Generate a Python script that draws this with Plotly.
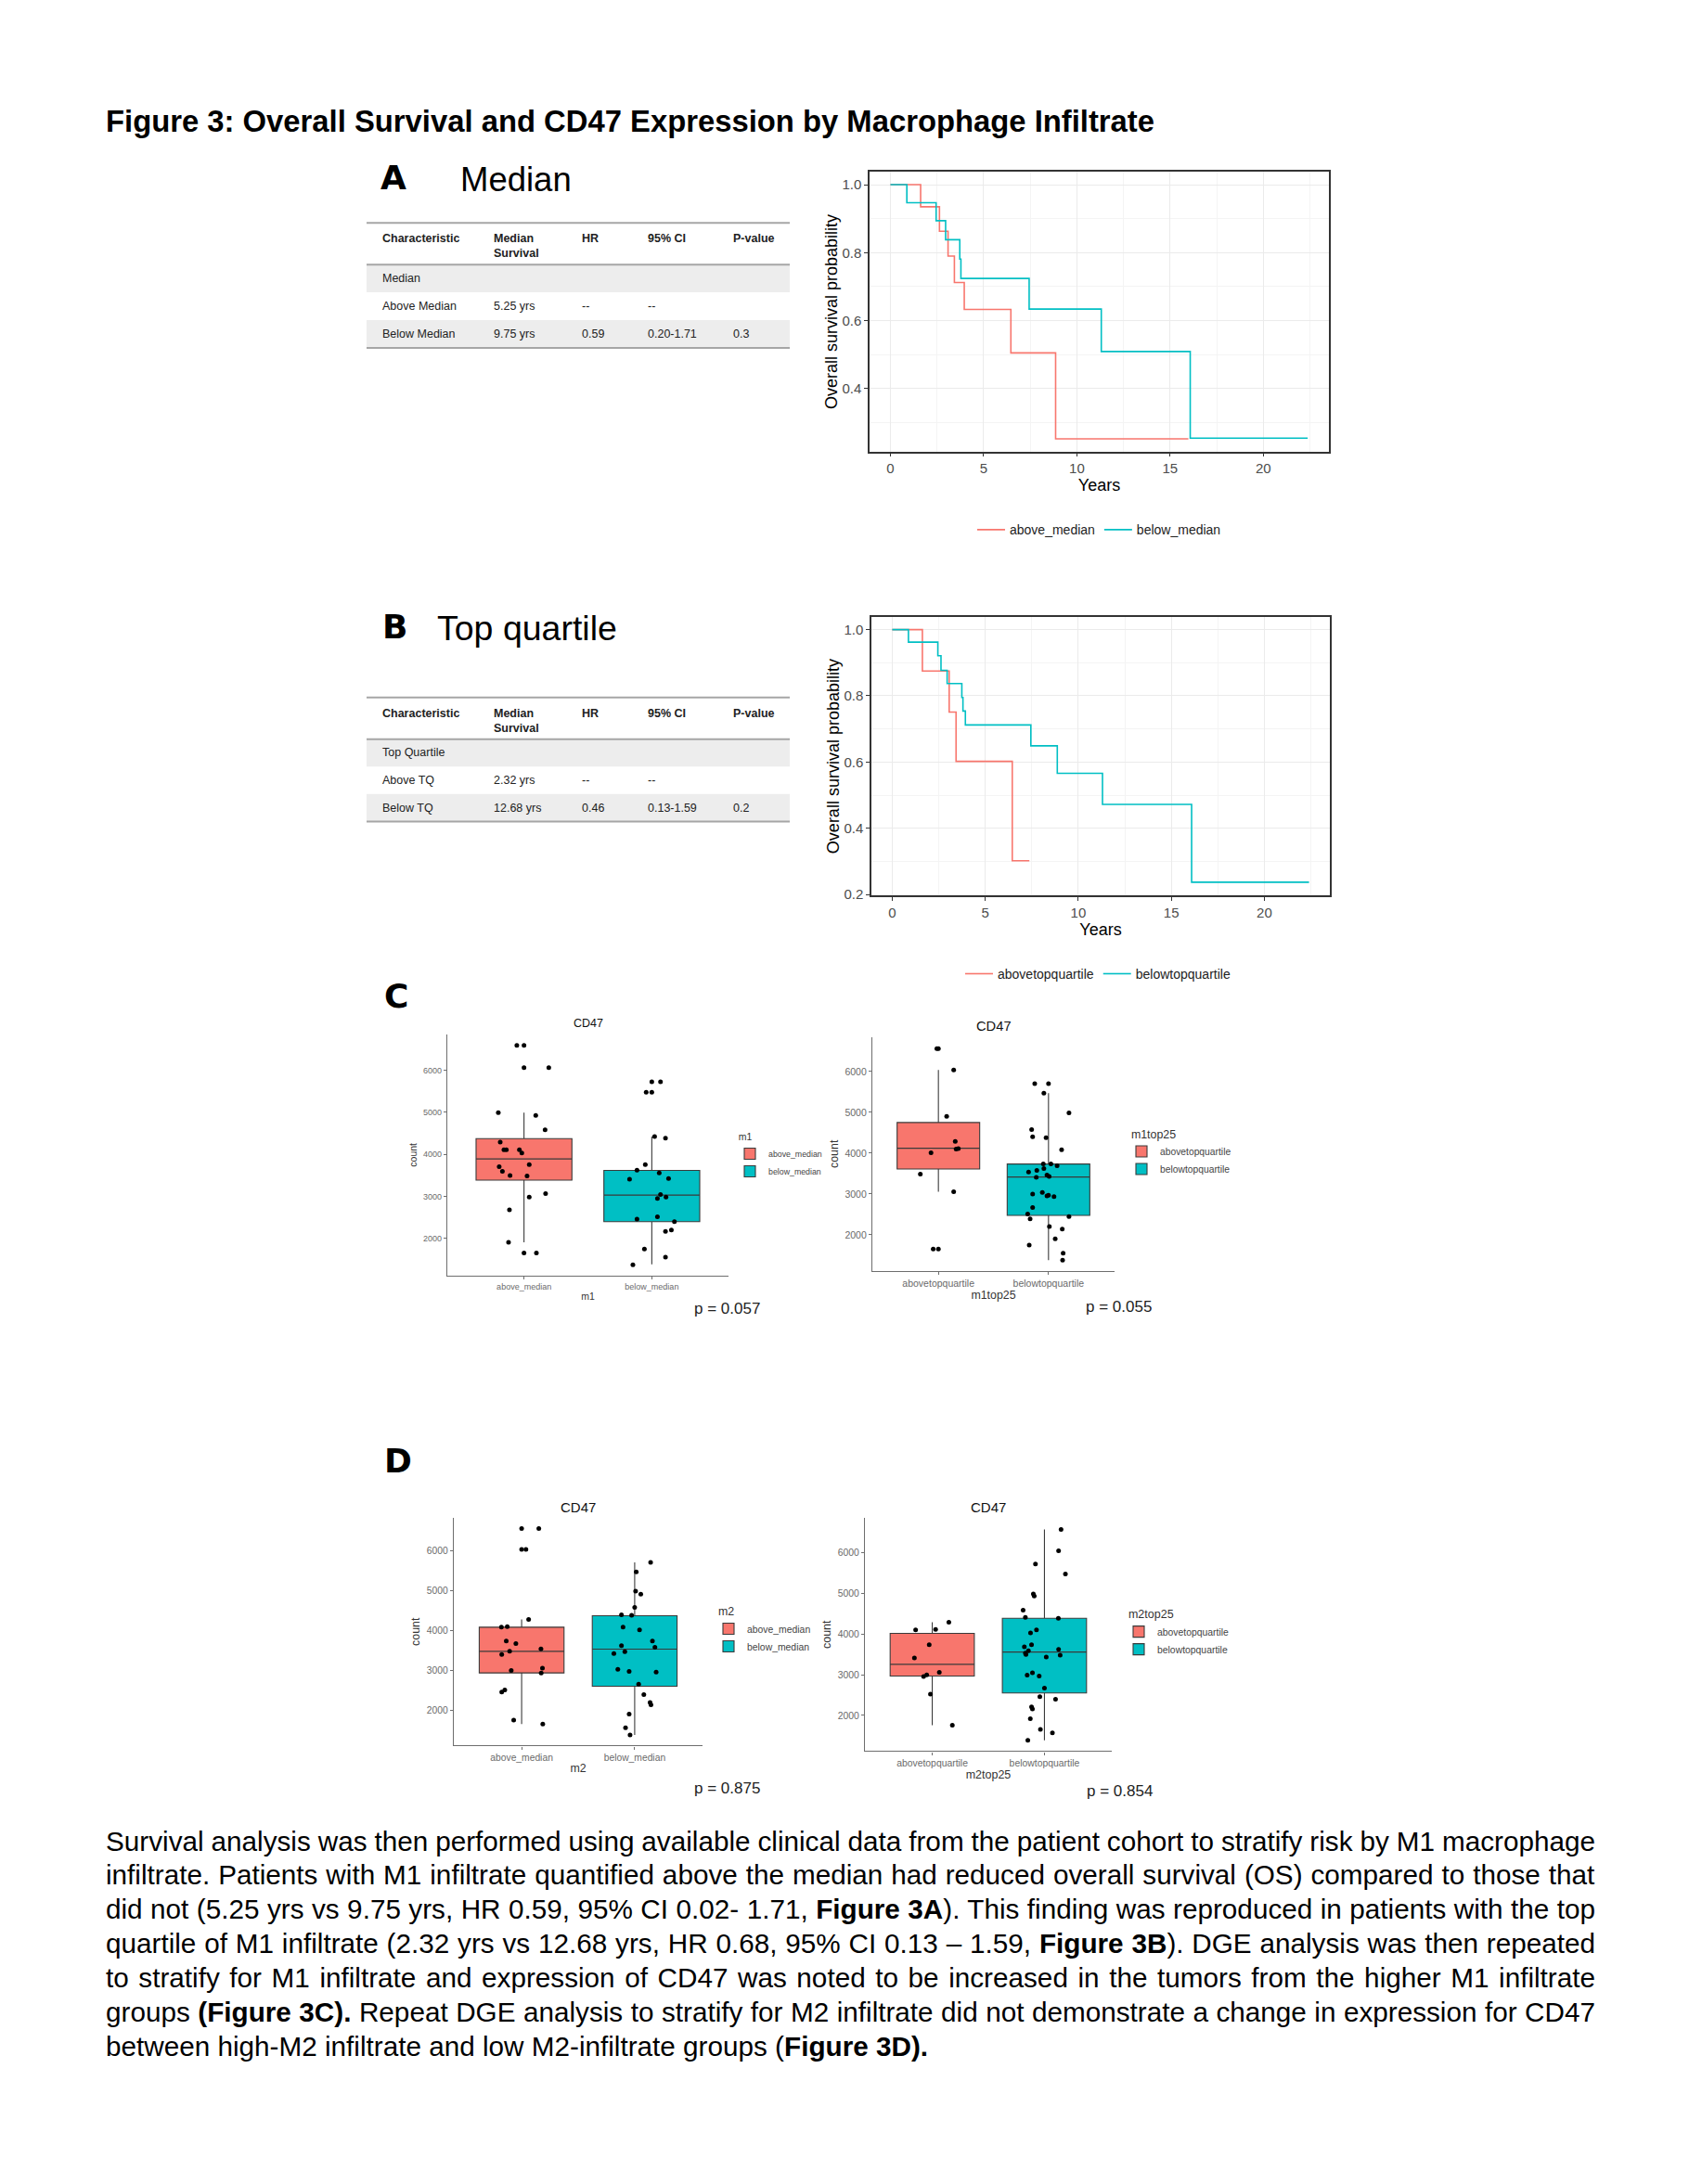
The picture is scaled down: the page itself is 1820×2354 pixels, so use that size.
import json
import plotly.graph_objects as go

W, H = 1820, 2354
FONT = "Liberation Sans, Arial, sans-serif"
HEAVY = "DejaVu Sans, Liberation Sans, sans-serif"
RED = "#F8766D"
CYAN = "#00BFC4"

# ---------------- data ----------------
fig_title = "Figure 3: Overall Survival and CD47 Expression by Macrophage Infiltrate"
panel_letters = ["A", "B", "C", "D"]
panel_headings = ["Median", "Top quartile"]

table_header = ["Characteristic", "Median<br>Survival", "HR", "95% CI", "P-value"]
tableA_rows = [["Median", "", "", "", ""],
               ["Above Median", "5.25 yrs", "--", "--", ""],
               ["Below Median", "9.75 yrs", "0.59", "0.20-1.71", "0.3"]]
tableB_rows = [["Top Quartile", "", "", "", ""],
               ["Above TQ", "2.32 yrs", "--", "--", ""],
               ["Below TQ", "12.68 yrs", "0.46", "0.13-1.59", "0.2"]]

# Kaplan-Meier step curves (time in years, survival probability)
kmA_names = ["above_median", "below_median"]
kmA_above_t = [0, 1.62, 2.63, 3.09, 3.43, 3.96, 6.46, 8.86, 15.98]
kmA_above_s = [1.0, 0.935, 0.863, 0.790, 0.712, 0.633, 0.505, 0.252, 0.252]
kmA_below_t = [0, 0.88, 2.45, 2.96, 3.72, 3.78, 7.44, 11.31, 16.08, 22.38]
kmA_below_s = [1.0, 0.947, 0.894, 0.838, 0.781, 0.724, 0.634, 0.509, 0.254, 0.254]

kmB_names = ["abovetopquartile", "belowtopquartile"]
kmB_above_t = [0, 1.62, 3.06, 3.43, 6.45, 7.37]
kmB_above_s = [1.0, 0.875, 0.751, 0.602, 0.302, 0.302]
kmB_below_t = [0, 0.87, 2.45, 2.62, 2.95, 3.74, 3.80, 3.93, 7.45, 8.87, 11.30, 16.09, 22.40]
kmB_below_s = [1.0, 0.962, 0.921, 0.877, 0.837, 0.795, 0.754, 0.712, 0.649, 0.566, 0.472, 0.237, 0.237]

# Box plots: CD47 count by group
# C left: m1 (median split)
c1_groups = ["above_median", "below_median"]
c1_q1 = [3385, 2396]
c1_med = [3890, 3028]
c1_q3 = [4374, 3615]
c1_lo = [1905, 1380]
c1_hi = [4994, 4422]
c1_a_vals = [6594, 6066, 4994, 4928, 4583, 4290, 4106, 4106, 4106, 4033, 3703, 3754, 3593, 3497, 3483, 2983, 3064, 2675, 1905, 1648]
c1_a_jit = [-0.056, 0.194, -0.201, 0.092, 0.165, -0.186, -0.157, -0.138, -0.036, -0.017, -0.194, 0.041, -0.169, -0.109, 0.024, 0.041, 0.169, -0.114, -0.121, 0.097]
c1_b_vals = [5728, 5479, 4422, 4385, 3754, 3622, 3409, 3556, 3424, 3042, 2947, 2983, 2455, 2514, 2396, 2198, 2161, 1743, 1552, 1369]
c1_b_jit = [0.068, -0.044, 0.022, 0.107, -0.051, -0.116, -0.174, 0.058, 0.131, 0.068, 0.044, 0.111, -0.116, 0.044, 0.177, 0.153, 0.107, -0.058, 0.107, -0.148]
c1_a_out = [6594, 6066, 1648]
c1_b_out = [5728, 5479]

# C right: m1top25
c2_groups = ["abovetopquartile", "belowtopquartile"]
c2_q1 = [3614, 2477]
c2_med = [4121, 3417]
c2_q3 = [4750, 3735]
c2_lo = [3053, 1379]
c2_hi = [6038, 5470]
c2_a_vals = [6561, 6038, 4902, 4288, 4098, 4114, 4008, 3485, 3053, 1652]
c2_a_jit = [-0.014, 0.139, 0.075, 0.153, 0.161, 0.181, -0.067, -0.164, 0.139, -0.047]
c2_b_vals = [5705, 5470, 4985, 4576, 4402, 4379, 4083, 3735, 3735, 3689, 3538, 3576, 3621, 3462, 3432, 3409,
             3000, 3038, 2955, 2970, 2939, 2667, 2508, 2394, 2447, 2205, 2144, 1902, 1750, 1553, 1379]
c2_b_jit = [-0.125, -0.042, 0.186, -0.153, -0.144, -0.022, 0.119, -0.047, 0.022, 0.078, -0.181, -0.106, -0.042, -0.014, 0.006, -0.111,
            -0.144, -0.056, -0.014, 0.0, 0.050, -0.144, -0.189, -0.167, 0.186, 0.008, 0.125, 0.061, -0.175, 0.133, 0.128]
c2_a_out = [6561, 1652]
c2_b_out = [5705]

# D left: m2 (median split)
d1_groups = ["above_median", "below_median"]
d1_q1 = [2932, 2598]
d1_med = [3476, 3530]
d1_q3 = [4082, 4369]
d1_lo = [1643, 1371]
d1_hi = [4276, 5713]
d1_a_vals = [6567, 6039, 4276, 4082, 4097, 3732, 3670, 3476, 3398, 3538, 2994, 3049, 2932, 2505, 2450, 1744, 1643]
d1_a_jit = [0.152, 0.038, 0.062, -0.179, -0.127, -0.136, -0.051, -0.106, -0.176, 0.171, -0.092, 0.184, 0.173, -0.149, -0.176, -0.070, 0.187]
d1_b_vals = [5713, 5472, 4990, 4913, 4579, 4392, 4384, 4082, 4012, 3732, 3577, 3616, 3468, 3421, 3025, 2971, 2955, 2652,
             2388, 2186, 2132, 1899, 1550, 1371]
d1_b_jit = [0.141, 0.014, 0.008, 0.054, 0.0, -0.117, -0.027, -0.103, 0.043, 0.157, 0.179, -0.117, -0.087, -0.184, -0.149, -0.049, 0.190, 0.035,
            0.081, 0.136, 0.144, -0.049, -0.081, -0.041]
d1_a_out = [6567, 6039]
d1_b_out = []

# D right: m2top25
d2_groups = ["abovetopquartile", "belowtopquartile"]
d2_q1 = [2966, 2551]
d2_med = [3253, 3555]
d2_q3 = [4015, 4385]
d2_lo = [1758, 1389]
d2_hi = [4287, 6566]
d2_a_vals = [4287, 4098, 4113, 3736, 3411, 2958, 2996, 3057, 2521, 1758]
d2_a_jit = [0.148, -0.148, 0.030, -0.027, -0.159, -0.077, -0.049, 0.063, -0.016, 0.179]
d2_b_vals = [6566, 6038, 5713, 5472, 4981, 4928, 4581, 4408, 4385, 4098, 4023, 3683, 3736, 3585, 3532, 3494, 3623, 3479, 3434,
             2989, 3049, 2966, 2672, 2460, 2400, 2211, 2158, 1917, 1660, 1570, 1389]
d2_b_jit = [0.148, 0.126, -0.080, 0.187, -0.099, -0.091, -0.190, -0.170, 0.124, -0.071, -0.124, -0.179, -0.115, -0.143, -0.170, -0.165, 0.126, 0.140, 0.016,
            -0.154, -0.107, -0.047, 0.0, -0.041, 0.099, -0.115, -0.107, -0.126, -0.036, 0.071, -0.148]
d2_a_out = []
d2_b_out = []

p_values = ["p = 0.057", "p = 0.055", "p = 0.875", "p = 0.854"]

paragraph_lines = [
    "Survival analysis was then performed using available clinical data from the patient cohort to stratify risk by M1 macrophage",
    "infiltrate. Patients with M1 infiltrate quantified above the median had reduced overall survival (OS) compared to those that",
    "did not (5.25 yrs vs 9.75 yrs, HR 0.59, 95% CI 0.02- 1.71, <b>Figure 3A</b>). This finding was reproduced in patients with the top",
    "quartile of M1 infiltrate (2.32 yrs vs 12.68 yrs, HR 0.68, 95% CI 0.13 \u2013 1.59, <b>Figure 3B</b>). DGE analysis was then repeated",
    "to stratify for M1 infiltrate and expression of CD47 was noted to be increased in the tumors from the higher M1 infiltrate",
    "groups <b>(Figure 3C).</b> Repeat DGE analysis to stratify for M2 infiltrate did not demonstrate a change in expression for CD47",
    "between high-M2 infiltrate and low M2-infiltrate groups (<b>Figure 3D).</b>",
]


# ---------------- helpers ----------------
def fx(px):
    return px / W


def fy(py):
    return 1 - py / H


fig = go.Figure()
annotations = []
shapes = []


def text(x, y, s, size, bold=False, color="black", xanchor="left", yanchor="middle", angle=0, family=FONT):
    annotations.append(dict(
        x=fx(x), y=fy(y), xref="paper", yref="paper", text=("<b>%s</b>" % s) if bold else s,
        showarrow=False, xanchor=xanchor, yanchor=yanchor, align="left" if xanchor == "left" else "center",
        textangle=angle, font=dict(family=family, size=size, color=color)))


# title
text(104, 123, fig_title, 32.8, bold=True)

# ---------------- tables ----------------
col_x = [402, 522, 617, 688, 780]


def draw_table(top, head_bot, row_h, rows):
    x0, x1 = 387, 843
    for i, r in enumerate(rows):
        y0 = head_bot + i * row_h
        if i != 1:
            shapes.append(dict(type="rect", xref="paper", yref="paper", x0=fx(x0), x1=fx(x1),
                               y0=fy(y0 + row_h), y1=fy(y0), fillcolor="#EDEDED", line=dict(width=0), layer="below"))
        for j, cell in enumerate(r):
            if cell:
                text(col_x[j], y0 + row_h / 2, cell, 12.5, color="#222222")
    for yy in (top, head_bot, head_bot + 3 * row_h):
        shapes.append(dict(type="line", xref="paper", yref="paper", x0=fx(x0), x1=fx(x1), y0=fy(yy), y1=fy(yy),
                           line=dict(color="#A6A6A6", width=2)))
    for j, hname in enumerate(table_header):
        text(col_x[j], top + 8, hname, 12.5, bold=True, color="#222222", yanchor="top")


draw_table(233, 278, 30, tableA_rows)
draw_table(746, 791, 29.7, tableB_rows)

# panel letters and headings
text(400, 184, panel_letters[0], 36, bold=True, family=HEAVY)
text(402, 669, panel_letters[1], 36, bold=True, family=HEAVY)
text(404, 1069, panel_letters[2], 36, bold=True, family=HEAVY)
text(404, 1571, panel_letters[3], 36, bold=True, family=HEAVY)
text(486, 186, panel_headings[0], 36.5)
text(461, 671, panel_headings[1], 37.5)

# ---------------- KM plots ----------------
km_axes_common = dict(showline=True, linecolor="#333333", linewidth=1.5, mirror=True,
                      ticks="outside", ticklen=4, tickcolor="#333333", tickwidth=1,
                      tickfont=dict(family=FONT, size=15, color="#4D4D4D"),
                      showgrid=True, gridcolor="#EBEBEB", gridwidth=1.2, zeroline=False)


def km_panel(n, dom_x, dom_y, yrange, ydtick0, curves, legname, legx, legy):
    xa = "xaxis" if n == 1 else "xaxis%d" % n
    ya = "yaxis" if n == 1 else "yaxis%d" % n
    xr = "x" if n == 1 else "x%d" % n
    yr = "y" if n == 1 else "y%d" % n
    fig.layout[xa] = dict(domain=[fx(dom_x[0]), fx(dom_x[1])], anchor=yr, range=[-1.12, 23.52],
                          tickvals=[0, 5, 10, 15, 20],
                          minor=dict(dtick=2.5, tick0=0, showgrid=True, gridcolor="#F4F4F4", gridwidth=0.8, ticks=""),
                          title=dict(text="Years", font=dict(family=FONT, size=18, color="black"), standoff=4),
                          **km_axes_common)
    fig.layout[ya] = dict(domain=[fy(dom_y[1]), fy(dom_y[0])], anchor=xr, range=yrange,
                          tickmode="linear", tick0=ydtick0, dtick=0.2, tickformat=".1f",
                          minor=dict(dtick=0.1, tick0=0, showgrid=True, gridcolor="#F4F4F4", gridwidth=0.8, ticks=""),
                          title=dict(text="Overall survival probability", font=dict(family=FONT, size=18, color="black"), standoff=0),
                          **km_axes_common)
    for (t, s, name, col) in curves:
        fig.add_trace(go.Scatter(x=t, y=s, mode="lines", line=dict(color=col, width=1.6, shape="hv"),
                                 name=name, xaxis=xr, yaxis=yr, legend=legname))
    fig.layout[legname] = dict(orientation="h", x=fx(legx), xanchor="left", y=fy(legy), yanchor="middle",
                               font=dict(family=FONT, size=14, color="#222222"), bgcolor="rgba(0,0,0,0)",
                               itemwidth=30, tracegroupgap=0)


km_panel(1, (929, 1424), (178, 480), [0.215, 1.037], 0.4,
         [(kmA_above_t, kmA_above_s, kmA_names[0], RED), (kmA_below_t, kmA_below_s, kmA_names[1], CYAN)],
         "legend", 1040, 565)
km_panel(2, (931, 1425), (659, 960), [0.197, 1.038], 0.2,
         [(kmB_above_t, kmB_above_s, kmB_names[0], RED), (kmB_below_t, kmB_below_s, kmB_names[1], CYAN)],
         "legend2", 1027, 1045)


# ---------------- box plots ----------------
def box_panel(n, dom_x, dom_y, yrange, groups, q1, med, q3, lo, hi, a_vals, a_jit, b_vals, b_jit,
              a_out, b_out, xtitle, sizes, leg_xy, ptxt, p_xy):
    tick_sz, lab_sz, ctitle_sz, leg_sz = sizes
    xa, ya = "xaxis%d" % n, "yaxis%d" % n
    xr, yr = "x%d" % n, "y%d" % n
    legname = "legend%d" % n
    fig.layout[xa] = dict(domain=[fx(dom_x[0]), fx(dom_x[1])], anchor=yr, range=[0.4, 2.6],
                          tickvals=[1, 2], ticktext=groups, showline=True, linecolor="#6E6E6E", linewidth=1.3,
                          ticks="outside", ticklen=3, tickcolor="#6E6E6E", showgrid=False, zeroline=False,
                          tickfont=dict(family=FONT, size=tick_sz, color="#6A6A6A"),
                          title=dict(text=xtitle, font=dict(family=FONT, size=lab_sz, color="#333333"), standoff=2))
    fig.layout[ya] = dict(domain=[fy(dom_y[1]), fy(dom_y[0])], anchor=xr, range=yrange,
                          tickvals=[2000, 3000, 4000, 5000, 6000], showline=True, linecolor="#6E6E6E", linewidth=1.3,
                          ticks="outside", ticklen=3, tickcolor="#6E6E6E", showgrid=False, zeroline=False,
                          tickfont=dict(family=FONT, size=tick_sz, color="#6A6A6A"),
                          title=dict(text="count", font=dict(family=FONT, size=lab_sz, color="#333333"), standoff=4))
    for i, col in enumerate([RED, CYAN]):
        fig.add_trace(go.Box(x=[i + 1], q1=[q1[i]], median=[med[i]], q3=[q3[i]], lowerfence=[lo[i]],
                             upperfence=[hi[i]], width=0.75, whiskerwidth=0, fillcolor=col,
                             line=dict(color="#3A3A3A", width=1.1), boxpoints=False, name=groups[i],
                             xaxis=xr, yaxis=yr, legend=legname, hoverinfo="skip"))
    for c, vals in [(1, a_out), (2, b_out)]:
        if vals:
            fig.add_trace(go.Scatter(x=[c] * len(vals), y=vals, mode="markers",
                                     marker=dict(color="black", size=5), showlegend=False, xaxis=xr, yaxis=yr))
    for c, vals, jit in [(1, a_vals, a_jit), (2, b_vals, b_jit)]:
        fig.add_trace(go.Scatter(x=[c + j for j in jit], y=vals, mode="markers",
                                 marker=dict(color="black", size=5), showlegend=False, xaxis=xr, yaxis=yr))
    fig.layout[legname] = dict(x=fx(leg_xy[0]), y=fy(leg_xy[1]), xanchor="left", yanchor="top",
                               title=dict(text="&nbsp;&nbsp;" + xtitle, font=dict(family=FONT, size=lab_sz, color="#333333")),
                               font=dict(family=FONT, size=leg_sz, color="#444444"), bgcolor="rgba(0,0,0,0)",
                               itemwidth=30, tracegroupgap=0)
    text((dom_x[0] + dom_x[1]) / 2, dom_y[0] - 12, "CD47", ctitle_sz, color="#111111", xanchor="center")
    text(p_xy[0], p_xy[1], ptxt, 17, color="#222222", xanchor="center")


box_panel(3, (474, 777), (1110, 1371), [1110, 6860], c1_groups, c1_q1, c1_med, c1_q3, c1_lo, c1_hi,
          c1_a_vals, c1_a_jit, c1_b_vals, c1_b_jit, c1_a_out, c1_b_out, "m1",
          (9, 10.5, 12.5, 8.8), (780, 1211), p_values[0], (775, 1407))
box_panel(4, (932, 1193), (1113, 1366), [1115, 6845], c2_groups, c2_q1, c2_med, c2_q3, c2_lo, c2_hi,
          c2_a_vals, c2_a_jit, c2_b_vals, c2_b_jit, c2_a_out, c2_b_out, "m1top25",
          (10.5, 12.4, 14.7, 10.3), (1202, 1206), p_values[1], (1197, 1405))
box_panel(5, (481, 749), (1633, 1879), [1105, 6830], d1_groups, d1_q1, d1_med, d1_q3, d1_lo, d1_hi,
          d1_a_vals, d1_a_jit, d1_b_vals, d1_b_jit, d1_a_out, d1_b_out, "m2",
          (10.3, 12.4, 15, 10.4), (757, 1722), p_values[2], (775, 1925))
box_panel(6, (924, 1190), (1633, 1885), [1125, 6845], d2_groups, d2_q1, d2_med, d2_q3, d2_lo, d2_hi,
          d2_a_vals, d2_a_jit, d2_b_vals, d2_b_jit, d2_a_out, d2_b_out, "m2top25",
          (10.4, 12.5, 15, 10.4), (1199, 1725), p_values[3], (1198, 1928))

# ---------------- paragraph ----------------
para_y0, para_dy = 1982, 37
for i, line in enumerate(paragraph_lines):
    text(104, para_y0 + i * para_dy, line, 29.7, color="black")

fig.update_layout(width=W, height=H, autosize=False, margin=dict(l=0, r=0, t=0, b=0),
                  paper_bgcolor="white", plot_bgcolor="white", showlegend=True,
                  annotations=annotations, shapes=shapes, boxmode="overlay",
                  font=dict(family=FONT))

# justify all paragraph lines except the last one (word spacing stretch to the right margin)
justify = json.dumps(paragraph_lines[:-1])
post = """
var gd = document.getElementById('{plot_id}');
var targets = %s;
var right = %f;
var texts = gd.querySelectorAll('.annotation-text');
var svgLeft = gd.getBoundingClientRect().left;
texts.forEach(function(t){
  var raw = t.getAttribute('data-unformatted');
  if (targets.indexOf(raw) < 0) return;
  var bb = t.getBoundingClientRect();
  var curRight = bb.right - svgLeft;
  var n = (t.textContent.match(/ /g) || []).length;
  if (n > 0) {
    t.style.wordSpacing = ((right - curRight) / n) + 'px';
  }
});
""" % (justify, 1711.0)

fig.write_html("out.html", post_script=post)
